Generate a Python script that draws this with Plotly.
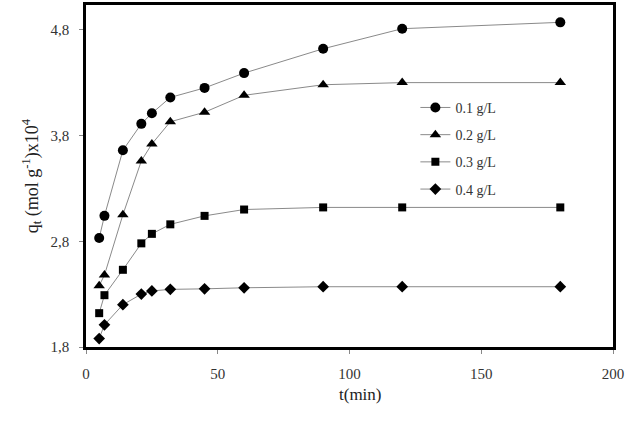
import plotly.graph_objects as go

t = [5, 7, 14, 21, 25, 32, 45, 60, 90, 120, 180]
q_01 = [2.83, 3.04, 3.66, 3.91, 4.01, 4.16, 4.25, 4.39, 4.62, 4.81, 4.87]
q_02 = [2.38, 2.48, 3.05, 3.56, 3.72, 3.93, 4.02, 4.18, 4.28, 4.30, 4.30]
q_03 = [2.12, 2.29, 2.53, 2.78, 2.87, 2.96, 3.04, 3.10, 3.12, 3.12, 3.12]
q_04 = [1.88, 2.01, 2.20, 2.30, 2.33, 2.345, 2.35, 2.36, 2.37, 2.37, 2.37]

names = ["0.1 g/L", "0.2 g/L", "0.3 g/L", "0.4 g/L"]
series = [q_01, q_02, q_03, q_04]
symbols = ["circle", "triangle-up", "square", "diamond"]
sizes = [10, 10, 8, 9]

FONT = "Liberation Serif, Times New Roman, serif"

fig = go.Figure()
for i, (nm, ys) in enumerate(zip(names, series)):
    fig.add_trace(go.Scatter(
        x=t, y=ys, name=nm, mode="lines+markers",
        line=dict(color="#8a8a8a", width=1),
        marker=dict(symbol=symbols[i], size=sizes[i], color="black"),
        legendgroup=f"g{i}",
    ))

fig.update_layout(
    width=629, height=432,
    margin=dict(l=86, r=16, t=2, b=85),
    paper_bgcolor="white", plot_bgcolor="white",
    separators=",.",
    font=dict(family=FONT, color="#222222", size=15),
    showlegend=True,
    legend=dict(
        x=0.625, y=0.746, xanchor="left", yanchor="top",
        bgcolor="rgba(0,0,0,0)", font=dict(size=14, family=FONT, color="#333333"),
        tracegroupgap=6, itemwidth=30,
    ),
    annotations=[
        dict(text="t(min)", x=0.52, y=-0.139, xref="paper", yref="paper",
             xanchor="center", yanchor="middle", showarrow=False,
             font=dict(size=17, family=FONT, color="#222222")),
    ],
)

fig.update_xaxes(
    range=[0, 200], tickvals=[0, 50, 100, 150, 200],
    showgrid=False, zeroline=False,
    showline=True, linecolor="black", linewidth=2.5, mirror=True,
    ticks="outside", ticklen=4, tickcolor="#888888", ticklabelstandoff=7,
    tickfont=dict(size=15, family=FONT, color="#333333"),
)
fig.update_yaxes(
    range=[1.8, 5.034], tick0=1.8, dtick=1, tickformat=".1f",
    showgrid=False, zeroline=False,
    showline=True, linecolor="black", linewidth=2.5, mirror=True,
    ticks="outside", ticklen=4, tickcolor="#888888", ticklabelstandoff=7,
    tickfont=dict(size=15, family=FONT, color="#333333"),
    title=dict(text="q<sub>t</sub> (mol g<sup>-1</sup>)x10<sup>4</sup>",
               font=dict(size=18, family=FONT, color="#222222"), standoff=8),
)

fig.write_html("out.html")
